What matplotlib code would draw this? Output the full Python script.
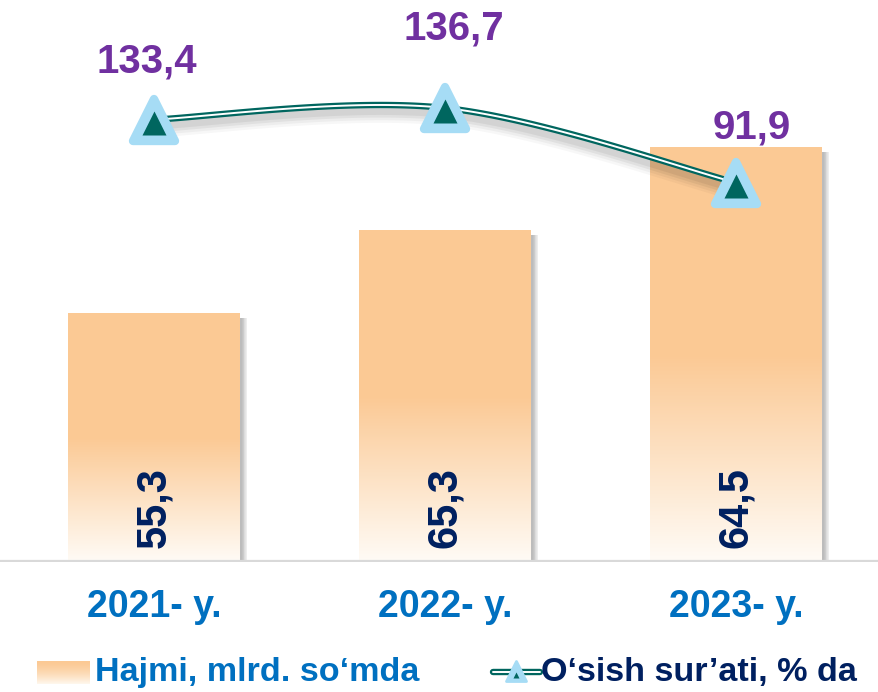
import numpy as np
import matplotlib
matplotlib.use('Agg')
import matplotlib.pyplot as plt
from matplotlib.patches import Rectangle
from matplotlib.markers import MarkerStyle
from matplotlib.transforms import offset_copy

plt.rcParams['font.family'] = ['Liberation Sans', 'DejaVu Sans']
plt.rcParams['font.weight'] = 'bold'

# data
years = ['2021- y.', '2022- y.', '2023- y.']
volume_labels = ['55,3', '65,3', '64,5']     # Hajmi, mlrd. so'mda
growth_labels = ['133,4', '136,7', '91,9']   # O'sish sur'ati, % da
# bar heights and line levels as drawn in the picture (not to value scale)
bar_height = [3.0, 4.0, 5.0]
line_level = [5.33, 5.47, 4.57]

BAR_TOP = '#fbc994'
NAVY = '#002060'
BLUE = '#0070c0'
PURPLE = '#7030a0'
TEAL = '#00665f'
SKY = '#a6dcf5'

fig = plt.figure(figsize=(8.79, 6.92), dpi=100)
ax = fig.add_axes([0, 130 / 692, 1, 562 / 692])
ax.axis('off')

x = np.arange(len(years))
w = 0.59

# gradient colour for the bars: solid top half, fading to white at bottom
top_rgb = np.array(matplotlib.colors.to_rgb(BAR_TOP))
bot_rgb = np.array([1.0, 0.985, 0.965])
t = np.linspace(0, 1, 300)[:, None]       # 0 = top, 1 = bottom
f = np.clip((t - 0.5) / 0.5, 0, 1)
grad = top_rgb * (1 - f) + bot_rgb * f
grad = grad[:, None, :]

for i, h in enumerate(bar_height):
    x0 = x[i] - w / 2
    # soft shadow on the right
    for k in range(8):
        ax.add_patch(Rectangle((x0 + 0.008 + k * 0.0025, 0.0), w, h - 0.06,
                               color='black', alpha=0.035, lw=0, zorder=1))
    ax.imshow(grad, extent=[x0, x0 + w, 0, h], aspect='auto', zorder=2,
              interpolation='nearest')
    ax.text(x[i], 0.17, volume_labels[i], rotation=90, ha='center', va='bottom',
            fontsize=30, color=NAVY, fontweight='bold', zorder=6)

# baseline
ax.axhline(0.01, color='#d9d9d9', lw=1.6, zorder=3)

# smoothed line (catmull-rom in pixel-like space)
sx, sy = 291.0, 83.0
P = np.column_stack([x * sx, np.array(line_level) * sy])
P = np.vstack([P[0], P, P[-1]])
curve = []
for j in range(1, len(P) - 2):
    p0, p1, p2, p3 = P[j - 1], P[j], P[j + 1], P[j + 2]
    u = np.linspace(0, 1, 60)[:, None]
    seg = 0.5 * ((2 * p1) + (-p0 + p2) * u + (2 * p0 - 5 * p1 + 4 * p2 - p3) * u ** 2
                 + (-p0 + 3 * p1 - 3 * p2 + p3) * u ** 3)
    curve.append(seg)
curve = np.vstack(curve)
cx, cy = curve[:, 0] / sx, curve[:, 1] / sy

# shadow below the line
for k, a in enumerate([0.06, 0.05, 0.04, 0.03]):
    ax.plot(cx, cy - 0.07 - k * 0.015, color='black', lw=6 + 2 * k, alpha=a,
            solid_capstyle='round', zorder=3)
ax.plot(cx, cy, color=TEAL, lw=4.6, solid_capstyle='round', zorder=4)
ax.plot(cx, cy, color='white', lw=1.4, solid_capstyle='round', zorder=4)

# markers
tri = MarkerStyle('^', joinstyle='round')
ax.plot(x, line_level, ls='none', marker=tri, markersize=30, mfc=SKY, mec=SKY,
        mew=6, zorder=5)
inner = offset_copy(ax.transData, fig=fig, x=0, y=-3, units='dots')
ax.plot(x, line_level, ls='none', marker='^', markersize=17, mfc=TEAL, mec='none',
        transform=inner, zorder=5)

label_off = [(-7, 58), (9, 79), (16, 55)]
for i, lab in enumerate(growth_labels):
    ax.annotate(lab, (x[i], line_level[i]), xytext=label_off[i],
                textcoords='offset pixels', ha='center', va='center',
                fontsize=29, color=PURPLE, fontweight='bold', zorder=6)

ax.set_xlim(-154 / 291, 725 / 291)
ax.set_ylim(0, 562 / 83)

# year labels
for i, yl in enumerate(years):
    fig.text(x[i] * 291 / 879 + 154 / 879, 1 - 607 / 692, yl, ha='center', va='center',
             fontsize=27, color=BLUE, fontweight='bold')

# legend
lg = fig.add_axes([0, 0, 1, 1], zorder=-1)
lg.axis('off')
lgrad = np.linspace(0, 1, 50)[:, None]
lcol = top_rgb * (1 - lgrad ** 1.5) + np.array([1, 0.97, 0.93]) * lgrad ** 1.5
lg.imshow(lcol[:, None, :], extent=[37, 90, 684, 661], aspect='auto')
lg.set_xlim(0, 879)
lg.set_ylim(692, 0)
lg.text(95, 672, 'Hajmi, mlrd. so\u2018mda', ha='left', va='center', fontsize=24.6,
        color=BLUE, fontweight='bold')
lg.plot([493, 540], [672, 672], color=TEAL, lw=4.6, solid_capstyle='round')
lg.plot([493, 540], [672, 672], color='white', lw=1.4, solid_capstyle='round')
lg.plot([516], [671], marker=tri, markersize=15, mfc=SKY, mec=SKY, mew=2)
lg.plot([516], [675], marker='^', markersize=4, mfc=TEAL, mec='none')
lg.text(541, 672, 'O\u2018sish sur\u2019ati, % da', ha='left', va='center', fontsize=24.6,
        color=NAVY, fontweight='bold')

fig.savefig('out.png', dpi=100)
